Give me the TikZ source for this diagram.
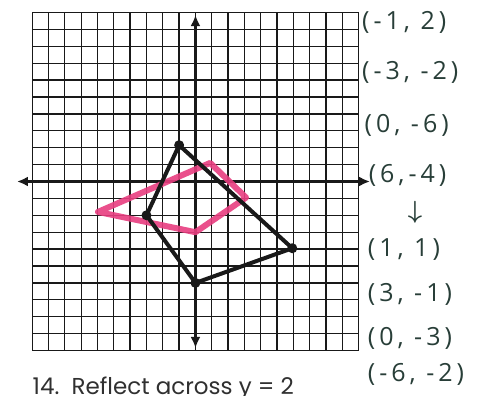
\documentclass[tikz,border=0pt]{standalone}
\usepackage{amsmath}
\usepackage{fontspec}
\setmainfont{Open Sans}
\newfontfamily\handfont[LetterSpace=16]{Open Sans}
\newfontfamily\printfont{Poppins}
\usepackage{tikz}
\usetikzlibrary{arrows.meta,positioning,calc}
\definecolor{inkgreen}{RGB}{40,62,56}
\definecolor{hotpink}{RGB}{232,62,128}
\definecolor{penblack}{RGB}{25,25,25}

\tikzset{
  gridline/.style={line width=1.3pt, penblack, xstep=16.33pt, ystep=16.9pt},
  axisline/.style={line width=2.6pt, penblack, {Latex[length=11pt,width=10pt]}-{Latex[length=11pt,width=10pt]}},
  shapeblack/.style={line width=4pt, penblack, line join=round},
  shapepink/.style={line width=6pt, hotpink, opacity=0.9, line join=round, line cap=round},
  vertexdot/.style={circle, fill=penblack, inner sep=0pt, minimum size=10pt},
  handnote/.style={anchor=west, inkgreen, font=\handfont\fontsize{25}{25}\selectfont, inner sep=0pt}
}

\begin{document}
\begin{tikzpicture}[x=16.33pt, y=16.9pt]
  \useasboundingbox (-11.97,-12.69) rectangle (18.16,10.74);
  \fill[white] (-11.97,-12.69) rectangle (18.16,10.74);

  % graph paper
  \draw[gridline] (-10,-10) grid (10,10);
  \draw[axisline] (-10.93,0) -- (10.69,0);
  \draw[axisline] (0,-9.85) -- (0,9.85);

  % image (pink)
  \coordinate (P1) at (0.9,1.1);
  \coordinate (P2) at (3.1,-0.95);
  \coordinate (P3) at (0,-3);
  \coordinate (P4) at (-5.97,-1.8);
  \draw[shapepink] (P1) -- (P2) -- (P3) -- (P4) -- cycle;

  % pre-image (black)
  \coordinate (A) at (-1,2.15);
  \coordinate (B) at (-3,-2);
  \coordinate (C) at (0,-6);
  \coordinate (D) at (5.93,-3.95);
  \draw[shapeblack] (A) -- (B) -- (C) -- (D) -- cycle;
  \foreach \v in {A,B,C,D}
    \node[vertexdot] at (\v) {};

  % worked coordinates
  \node[handnote] (n1) at (10.2,9.44) {(-1, 2)};
  \node[handnote] (n2) at (10.2,6.48) {(-3, -2)};
  \node[handnote] (n3) at (10.35,3.34) {(0, -6)};
  \node[handnote] (n4) at (10.6,0.38) {(6,-4)};
  \node[inkgreen, font=\fontsize{30}{30}\selectfont] (turn) at (13.45,-1.8) {$\boldsymbol{\downarrow}$};
  \node[handnote] (m1) at (10.55,-4.05) {(1, 1)};
  \node[handnote] (m2) at (10.55,-6.66) {(3, -1)};
  \node[handnote] (m3) at (10.55,-9.26) {(0, -3)};
  \node[handnote] (m4) at (10.55,-11.39) {(-6, -2)};

  % question
  \node[anchor=base west, inner sep=0pt, text=penblack!90, font=\printfont\fontsize{23}{23}\selectfont] (task) at (-9.98,-12.63) {14.\ \ Reflect across y = 2};
\end{tikzpicture}
\end{document}
